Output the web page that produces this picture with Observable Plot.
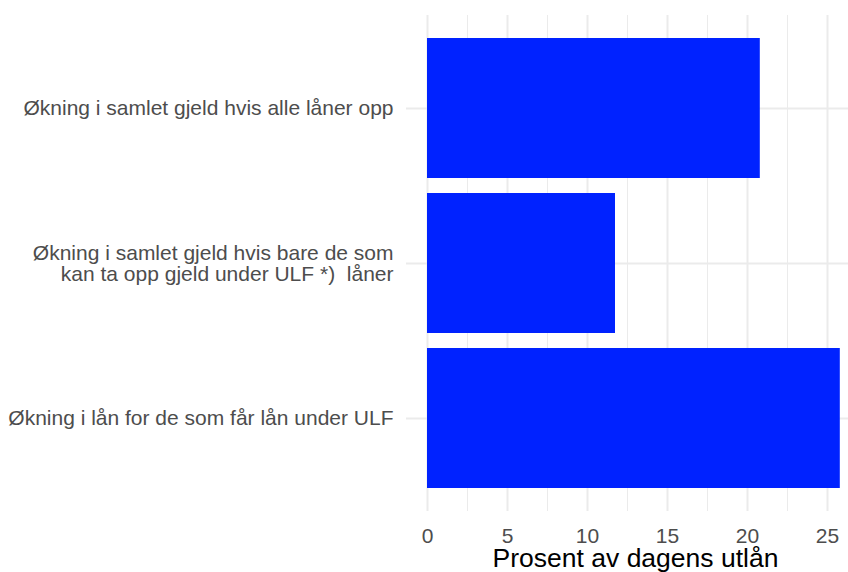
<!DOCTYPE html>
<html>
<head>
<meta charset="utf-8">
<script src="https://cdn.jsdelivr.net/npm/d3@7"></script>
<script src="https://cdn.jsdelivr.net/npm/@observablehq/plot@0.6"></script>
<style>
  html, body { margin: 0; padding: 0; background: #fff; overflow: hidden; }
  svg text { white-space: pre; }
</style>
</head>
<body>
<div id="chart"></div>
<script>
const categories = [
  "Økning i samlet gjeld hvis alle låner opp",
  "Økning i samlet gjeld hvis bare de som\nkan ta opp gjeld under ULF *)  låner",
  "Økning i lån for de som får lån under ULF"
];
const values = [20.8, 11.75, 25.8];
const majorTicks = [0, 5, 10, 15, 20, 25];
const minorTicks = [2.5, 7.5, 12.5, 17.5, 22.5];
const xTitle = "Prosent av dagens utlån";

const data = categories.map((c, i) => ({category: c, value: values[i]}));

const chart = Plot.plot({
  width: 848,
  height: 572,
  marginLeft: 406,
  marginRight: 0,
  marginTop: 15,
  marginBottom: 61,
  style: {fontFamily: "'Liberation Sans', Arial, Helvetica, sans-serif", background: "#fff"},
  x: {domain: [-1.3125, 26.3125], ticks: majorTicks},
  y: {domain: categories, paddingInner: 0.1, paddingOuter: 0.15},
  marks: [
    Plot.ruleX(minorTicks, {stroke: "#EBEBEB", strokeWidth: 1}),
    Plot.ruleX(majorTicks, {stroke: "#EBEBEB", strokeWidth: 2}),
    Plot.gridY({stroke: "#EBEBEB", strokeOpacity: 1, strokeWidth: 2}),
    Plot.barX(data, {x: "value", y: "category", fill: "#0022FF"}),
    Plot.axisY({tickSize: 0, tickPadding: 13, fontSize: 21, fill: "#4D4D4D", label: null, lineHeight: 1.0}),
    Plot.axisX({ticks: majorTicks, tickSize: 0, tickPadding: 17, fontSize: 21, fill: "#4D4D4D", label: null, tickFormat: d => String(d)}),
    Plot.text([xTitle], {frameAnchor: "bottom", text: d => d, dx: 8, dy: 47.5, fontSize: 26.5, fill: "#000", textAnchor: "middle", lineAnchor: "middle"})
  ]
});
document.getElementById("chart").appendChild(chart);
</script>
</body>
</html>
